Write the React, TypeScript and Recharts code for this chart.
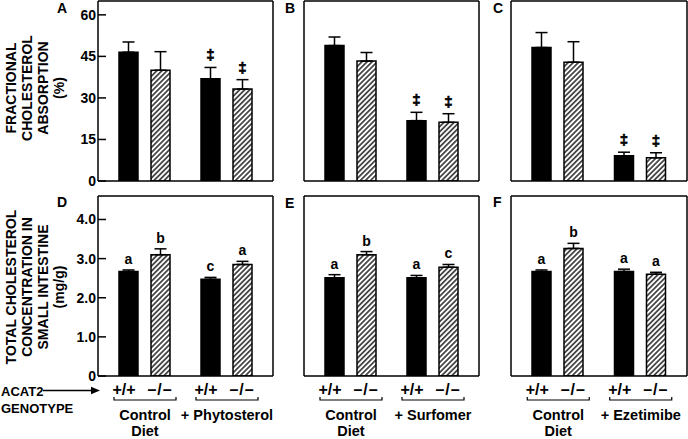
import React from 'react';
import { BarChart, Bar, XAxis, YAxis, ErrorBar, LabelList, ReferenceLine } from 'recharts';

const FONT = '"Liberation Sans", Arial, Helvetica, sans-serif';

// ---------- categories & tick labels ----------
const groupsPhyto = ['Control\nDiet', '+ Phytosterol'];
const groupsSurf = ['Control\nDiet', '+ Surfomer'];
const groupsEzet = ['Control\nDiet', '+ Ezetimibe'];
const genotypeLabels = ['+/+', '\u2013/\u2013'];

const absTicks = [0, 15, 30, 45, 60];
const absTickLabels = ['0', '15', '30', '45', '60'];
const concTicks = [0, 1, 2, 3, 4];
const concTickLabels = ['0', '1.0', '2.0', '3.0', '4.0'];

// ---------- Fractional cholesterol absorption (%) ----------
const absPhytoWT = [46.5, 36.9];
const absPhytoWTErr = [3.7, 4.1];
const absPhytoKO = [40.0, 33.2];
const absPhytoKOErr = [6.7, 3.4];
const absPhytoWTSig = ['', '\u2021'];
const absPhytoKOSig = ['', '\u2021'];

const absSurfWT = [48.9, 21.8];
const absSurfWTErr = [3.1, 3.0];
const absSurfKO = [43.3, 21.2];
const absSurfKOErr = [3.1, 3.1];
const absSurfWTSig = ['', '\u2021'];
const absSurfKOSig = ['', '\u2021'];

const absEzetWT = [48.2, 9.1];
const absEzetWTErr = [5.4, 1.3];
const absEzetKO = [42.9, 8.4];
const absEzetKOErr = [7.4, 1.8];
const absEzetWTSig = ['', '\u2021'];
const absEzetKOSig = ['', '\u2021'];

// ---------- Total cholesterol in small intestine (mg/g) ----------
const concPhytoWT = [2.67, 2.47];
const concPhytoWTErr = [0.04, 0.05];
const concPhytoKO = [3.1, 2.85];
const concPhytoKOErr = [0.15, 0.08];
const concPhytoWTSig = ['a', 'c'];
const concPhytoKOSig = ['b', 'a'];

const concSurfWT = [2.51, 2.51];
const concSurfWTErr = [0.08, 0.06];
const concSurfKO = [3.1, 2.78];
const concSurfKOErr = [0.08, 0.07];
const concSurfWTSig = ['a', 'a'];
const concSurfKOSig = ['b', 'c'];

const concEzetWT = [2.67, 2.67];
const concEzetWTErr = [0.04, 0.06];
const concEzetKO = [3.26, 2.6];
const concEzetKOErr = [0.13, 0.05];
const concEzetWTSig = ['a', 'a'];
const concEzetKOSig = ['b', 'a'];

const PLOT_H = 180;
const MT = 2;

function sigContent(vals: number[], errs: number[]) {
  return (p: any) => {
    const vb = p.viewBox || {};
    const x = p.x ?? vb.x;
    const y = p.y ?? vb.y;
    const w = p.width ?? vb.width;
    const h = p.height ?? vb.height;
    const i = p.index;
    const label = p.value;
    if (!label || i == null) return null;
    const pxPer = h / vals[i];
    const top = y - errs[i] * pxPer;
    const dagger = label === '\u2021';
    return (
      <text
        x={x + w / 2}
        y={top - (dagger ? 7 : 6)}
        textAnchor="middle"
        fontFamily={FONT}
        fontWeight="bold"
        fontSize={dagger ? 15 : 14}
        fill="#000"
        stroke={dagger ? '#000' : 'none'}
        strokeWidth={dagger ? 0.6 : 0}
      >
        {label}
      </text>
    );
  };
}

function GroupTick(props: any) {
  const { x, y, payload } = props;
  const lines = String(payload.value).split('\n');
  const ts = { fontFamily: FONT, fontWeight: 'bold' as const, fill: '#000' };
  return (
    <g>
      <text x={x - 20} y={y + 18.5} textAnchor="middle" fontSize={16} {...ts}>
        {genotypeLabels[0]}
      </text>
      <text x={x + 16} y={y + 18.5} textAnchor="middle" fontSize={16} letterSpacing={1} {...ts}>
        {genotypeLabels[1]}
      </text>
      <path
        d={`M${x - 30},${y + 21} L${x - 30},${y + 24} L${x + 32},${y + 24} L${x + 32},${y + 21}`}
        stroke="#000"
        strokeWidth={1.2}
        fill="none"
      />
      {lines.map((l, k) => (
        <text key={k} x={x + 1} y={y + 44 + k * 16} textAnchor="middle" fontSize={14.5} {...ts}>
          {l}
        </text>
      ))}
    </g>
  );
}

type PanelProps = {
  id: string;
  groups: string[];
  wt: number[];
  wtErr: number[];
  ko: number[];
  koErr: number[];
  wtSig: string[];
  koSig: string[];
  domainMax: number;
  ticks: number[];
  tickLabels: string[];
  showTickLabels: boolean;
  showXLabels: boolean;
  plotLeft: number;
  plotTop: number;
  plotW: number;
};

function Panel(p: PanelProps) {
  const LW = p.showTickLabels ? 40 : 4;
  const RW = 4;
  const XH = p.showXLabels ? 66 : 10;
  const width = LW + p.plotW + RW;
  const height = MT + PLOT_H + XH;
  const rows = p.groups.map((g, i) => ({
    group: g,
    wt: p.wt[i],
    wtErr: [0, p.wtErr[i]],
    ko: p.ko[i],
    koErr: [0, p.koErr[i]],
    wtSig: p.wtSig[i],
    koSig: p.koSig[i],
  }));
  const hatchId = `hatch-${p.id}`;
  const lineStyle = { stroke: '#000', strokeWidth: 1.5 };
  return (
    <div style={{ position: 'absolute', left: p.plotLeft - LW, top: p.plotTop - MT }}>
      <BarChart
        width={width}
        height={height}
        data={rows}
        margin={{ top: MT, right: 0, bottom: 0, left: 0 }}
        barSize={19}
        barGap={13}
      >
        <defs>
          <pattern
            id={hatchId}
            patternUnits="userSpaceOnUse"
            width={3.6}
            height={3.6}
            patternTransform="rotate(45)"
          >
            <rect x={0} y={0} width={3.6} height={3.6} fill="#fff" />
            <line x1={1.8} y1={0} x2={1.8} y2={3.6} stroke="#000" strokeWidth={1.3} />
          </pattern>
        </defs>
        <XAxis
          dataKey="group"
          type="category"
          padding={{ left: 5, right: 6 }}
          height={XH}
          axisLine={lineStyle}
          tickLine={false}
          tickSize={0}
          tickMargin={0}
          interval={0}
          tick={p.showXLabels ? (tp: any) => <GroupTick {...tp} /> : false}
        />
        <YAxis
          yAxisId="l"
          orientation="left"
          type="number"
          domain={[0, p.domainMax]}
          allowDataOverflow
          ticks={p.ticks}
          interval={0}
          width={LW}
          tickSize={-8}
          tickMargin={10}
          axisLine={lineStyle}
          tickLine={lineStyle}
          tickFormatter={(v: number) => p.tickLabels[p.ticks.indexOf(v)] ?? String(v)}
          tick={
            p.showTickLabels
              ? { fontFamily: FONT, fontWeight: 'bold', fontSize: 14, fill: '#000' }
              : false
          }
        />
        <YAxis
          yAxisId="r"
          orientation="right"
          type="number"
          domain={[0, p.domainMax]}
          allowDataOverflow
          ticks={p.ticks}
          interval={0}
          width={RW}
          tickSize={-8}
          axisLine={lineStyle}
          tickLine={lineStyle}
          tick={false}
        />
        <ReferenceLine yAxisId="l" y={p.domainMax} stroke="#000" strokeWidth={1.5} />
        <Bar yAxisId="l" dataKey="wt" fill="#000" stroke="#000" strokeWidth={1.5} isAnimationActive={false}>
          <ErrorBar dataKey="wtErr" direction="y" width={6} stroke="#000" strokeWidth={1.5} />
          <LabelList dataKey="wtSig" content={sigContent(p.wt, p.wtErr)} />
        </Bar>
        <Bar
          yAxisId="l"
          dataKey="ko"
          fill={`url(#${hatchId})`}
          stroke="#000"
          strokeWidth={1.5}
          isAnimationActive={false}
        >
          <ErrorBar dataKey="koErr" direction="y" width={6} stroke="#000" strokeWidth={1.5} />
          <LabelList dataKey="koSig" content={sigContent(p.ko, p.koErr)} />
        </Bar>
      </BarChart>
    </div>
  );
}

function Overlay() {
  const ts = { fontFamily: FONT, fontWeight: 'bold' as const, fill: '#000' };
  const topTitle = ['FRACTIONAL', 'CHOLESTEROL', 'ABSORPTION', '(%)'];
  const botTitle = ['TOTAL CHOLESTEROL', 'CONCENTRATION IN', 'SMALL INTESTINE', '(mg/g)'];
  const titleX = [15.5, 32, 48, 64];
  return (
    <svg
      width={688}
      height={439}
      style={{ position: 'absolute', left: 0, top: 0, pointerEvents: 'none' }}
    >
      {topTitle.map((t, i) => (
        <text key={'t' + i} transform={`translate(${titleX[i]},88) rotate(-90)`} textAnchor="middle" fontSize={14} {...ts}>
          {t}
        </text>
      ))}
      {botTitle.map((t, i) => (
        <text key={'b' + i} transform={`translate(${titleX[i]},287) rotate(-90)`} textAnchor="middle" fontSize={14} {...ts}>
          {t}
        </text>
      ))}
      <text x={57} y={13} fontSize={14} {...ts}>A</text>
      <text x={285} y={13} fontSize={14} {...ts}>B</text>
      <text x={493} y={13} fontSize={14} {...ts}>C</text>
      <text x={57} y={207} fontSize={14} {...ts}>D</text>
      <text x={285} y={208} fontSize={14} {...ts}>E</text>
      <text x={493} y={207} fontSize={14} {...ts}>F</text>
      <text x={1} y={395.5} fontSize={13} {...ts}>ACAT2</text>
      <text x={1} y={413} fontSize={13} {...ts}>GENOTYPE</text>
      <line x1={43} y1={390.5} x2={93} y2={390.5} stroke="#000" strokeWidth={1.6} />
      <path d="M91,386.8 L100,390.5 L91,394.2 Z" fill="#000" />
    </svg>
  );
}

export default function App() {
  return (
    <div
      style={{
        position: 'absolute',
        left: 0,
        top: 0,
        width: 688,
        height: 439,
        background: '#fff',
        overflow: 'hidden',
        fontFamily: FONT,
      }}
    >
      <Panel id="A" groups={groupsPhyto} wt={absPhytoWT} wtErr={absPhytoWTErr} ko={absPhytoKO} koErr={absPhytoKOErr}
        wtSig={absPhytoWTSig} koSig={absPhytoKOSig} domainMax={65} ticks={absTicks} tickLabels={absTickLabels}
        showTickLabels showXLabels={false} plotLeft={98} plotTop={1} plotW={175} />
      <Panel id="B" groups={groupsSurf} wt={absSurfWT} wtErr={absSurfWTErr} ko={absSurfKO} koErr={absSurfKOErr}
        wtSig={absSurfWTSig} koSig={absSurfKOSig} domainMax={65} ticks={absTicks} tickLabels={absTickLabels}
        showTickLabels={false} showXLabels={false} plotLeft={304} plotTop={1} plotW={175} />
      <Panel id="C" groups={groupsEzet} wt={absEzetWT} wtErr={absEzetWTErr} ko={absEzetKO} koErr={absEzetKOErr}
        wtSig={absEzetWTSig} koSig={absEzetKOSig} domainMax={65} ticks={absTicks} tickLabels={absTickLabels}
        showTickLabels={false} showXLabels={false} plotLeft={511} plotTop={1} plotW={176} />
      <Panel id="D" groups={groupsPhyto} wt={concPhytoWT} wtErr={concPhytoWTErr} ko={concPhytoKO} koErr={concPhytoKOErr}
        wtSig={concPhytoWTSig} koSig={concPhytoKOSig} domainMax={4.6} ticks={concTicks} tickLabels={concTickLabels}
        showTickLabels showXLabels plotLeft={98} plotTop={196} plotW={175} />
      <Panel id="E" groups={groupsSurf} wt={concSurfWT} wtErr={concSurfWTErr} ko={concSurfKO} koErr={concSurfKOErr}
        wtSig={concSurfWTSig} koSig={concSurfKOSig} domainMax={4.6} ticks={concTicks} tickLabels={concTickLabels}
        showTickLabels={false} showXLabels plotLeft={304} plotTop={196} plotW={175} />
      <Panel id="F" groups={groupsEzet} wt={concEzetWT} wtErr={concEzetWTErr} ko={concEzetKO} koErr={concEzetKOErr}
        wtSig={concEzetWTSig} koSig={concEzetKOSig} domainMax={4.6} ticks={concTicks} tickLabels={concTickLabels}
        showTickLabels={false} showXLabels plotLeft={511} plotTop={196} plotW={176} />
      <Overlay />
    </div>
  );
}
